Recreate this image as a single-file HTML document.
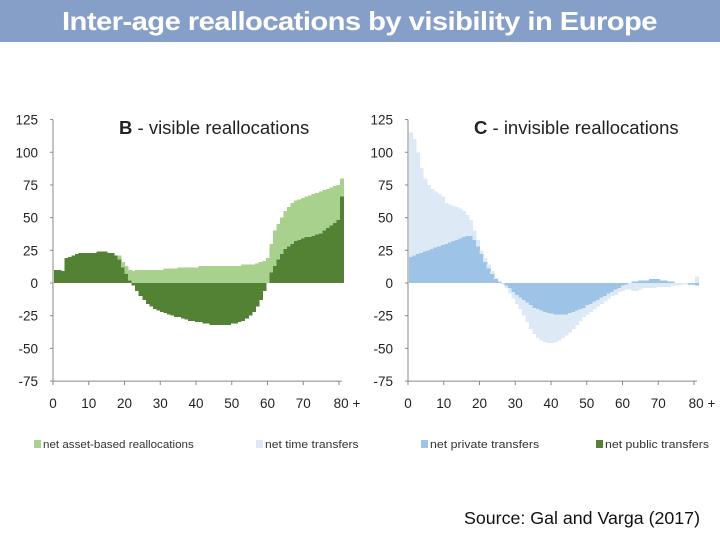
<!DOCTYPE html>
<html><head><meta charset="utf-8"><style>
body{margin:0;width:720px;height:540px;background:#fff;overflow:hidden;font-family:"Liberation Sans",sans-serif}
#hdr{position:absolute;left:0;top:0;width:720px;height:42px;background:#859fc9}
#hdrt{position:absolute;left:360px;top:0;color:#fff;font-weight:bold;font-size:26px;line-height:42px;white-space:nowrap;transform-origin:0 0;letter-spacing:-0.5px}
svg{position:absolute;left:0;top:0}
</style></head><body>
<div id="hdr"></div>
<div id="hdrt">Inter-age reallocations by visibility in Europe</div>
<svg id="chart" width="720" height="540"></svg>
<script>
const ages=[];for(let a=0;a<=81;a++)ages.push(a);
const publicTransfers=[10,10,9,19,20,21,22,23,23,23,23,23,24,24,24,23,23,21,18,12,7,2,-2,-6,-10,-13,-16,-18,-20,-21,-22,-23,-24,-25,-26,-26,-27,-28,-29,-29,-30,-30,-31,-31,-32,-32,-32,-32,-32,-32,-31,-31,-30,-29,-27,-25,-22,-18,-13,-6,0,8,13,18,22,26,28,30,32,33,34,35,35,36,37,38,40,42,44,46,48,66];
const assetBased=[0,0,0,0,0,0,0,0,0,0,0,0,0,0,0,0,0,0,3,4,6,8,9,10,10,10,10,10,10,10,10,11,11,11,11,12,12,12,12,12,12,13,13,13,13,13,13,13,13,13,13,13,13,14,14,14,14,15,16,17,19,22,27,27,28,29,30,31,31,31,31,31,32,32,32,32,31,30,29,28,27,14];
const privateTransfers=[20,21,22,23,24,25,26,27,28,29,30,31,32,33,34,35,36,36,33,28,22,16,11,7,3,1,0,-2,-4,-7,-9,-11,-13,-15,-17,-19,-20,-21,-22,-23,-23.5,-24,-24,-24,-24,-23,-22,-21,-20,-19,-17,-16,-14,-13,-11,-10,-8,-7,-5,-4,-2,-1,0,1,1,2,2,2,3,3,3,2,2,1,1,0,0,0,0,-1,-1,-2];
const timeTransfers=[95,89,78,65,56,50,46,43,40,37,31,29,27,25,23,20,16,12,7,5,3,3,3,2,1,0,-1,-2,-4,-5,-7,-9,-12,-15,-18,-20,-22,-23,-23,-23,-22.5,-21,-20,-18,-16,-15,-13,-11,-9,-7,-7,-6,-6,-5,-5,-4,-4,-3,-4,-3,-4,-4,-5,-6,-6,-5,-4,-4,-4,-4,-3,-3,-3,-3,-2,-2,-2,-1,-1,-1,-1,5];
const yTicks=[125,100,75,50,25,0,-25,-50,-75];
const xTicks=[0,10,20,30,40,50,60,70,80];
const xTickLabels=["0","10","20","30","40","50","60","70","80 +"];

const ht=document.getElementById('hdrt');const w=ht.getBoundingClientRect().width;
ht.style.left='62px';ht.style.transform='scaleX('+(595/w)+')';

const svg=document.getElementById('chart');const NS='http://www.w3.org/2000/svg';
function mk(t,at,txt){const e=document.createElementNS(NS,t);for(const k in at)e.setAttribute(k,at[k]);if(txt!==undefined)e.textContent=txt;svg.appendChild(e);return e;}
const yS=v=>283-v*1.3075;
const STEP=3.53;
function panel(x0,title,bold,s1,s2,c1,c2,nm){
  const xS=a=>x0+1+a*STEP;
  ages.forEach((a,i)=>{
    const v1=s1[i],v2=s2[i];
    let r=mk('rect',{x:xS(a),width:STEP+0.6,y:Math.min(yS(0),yS(v1)),height:Math.abs(yS(v1)-yS(0)),fill:c1,'shape-rendering':'crispEdges'});
    
    let base=(v2>=0)===(v1>=0)?v1:0;
    let top=base+v2;
    r=mk('rect',{x:xS(a),width:STEP+0.6,y:Math.min(yS(base),yS(top)),height:Math.abs(yS(top)-yS(base)),fill:c2,'shape-rendering':'crispEdges'});
    
  });
  mk('line',{x1:x0,x2:x0,y1:yS(125),y2:yS(-75),stroke:'#888','stroke-width':1});
  mk('line',{x1:x0,x2:x0+289,y1:yS(-75),y2:yS(-75),stroke:'#888','stroke-width':1});
  yTicks.forEach(v=>{mk('line',{x1:x0-3,x2:x0,y1:yS(v),y2:yS(v),stroke:'#888'});
    const t=mk('text',{x:x0-15,y:yS(v)+5,'text-anchor':'end','font-size':13.5,fill:'#222'},String(v));
    });
  xTicks.forEach((v,i)=>{mk('line',{x1:x0+v*3.575,x2:x0+v*3.575,y1:yS(-75),y2:yS(-75)+4,stroke:'#888'});
    const t=mk('text',{x:x0+v*3.575+(i==8?8:0),y:408,'text-anchor':'middle','font-size':13.5,fill:'#222'},xTickLabels[i]);
    });
  const t=mk('text',{x:x0+66,y:134,'font-size':18.5,fill:'#222'});
  
  const b=document.createElementNS(NS,'tspan');b.setAttribute('font-weight','bold');b.textContent=bold;t.appendChild(b);
  t.appendChild(document.createTextNode(title));
}
panel(53,' - visible reallocations','B',publicTransfers,assetBased,'#548235','#a9d18e','panel-b');
panel(408,' - invisible reallocations','C',privateTransfers,timeTransfers,'#9dc3e6','#ddeaf6','panel-c');
const legend=[[34,'#a9d18e','net asset-based reallocations'],[256,'#ddeaf6','net time transfers'],[421,'#9dc3e6','net private transfers'],[596,'#548235','net public transfers']];
legend.forEach(l=>{
  const r=mk('rect',{x:l[0],y:440,width:7,height:8,fill:l[1]});
  
  const t=mk('text',{x:l[0]+9,y:448,'font-size':11,fill:'#333',textLength:l[2].length*5.2,lengthAdjust:'spacingAndGlyphs'},l[2]);
  
});
const s=mk('text',{x:700,y:524,'text-anchor':'end','font-size':17.8,fill:'#111',textLength:236,lengthAdjust:'spacingAndGlyphs'},'Source: Gal and Varga (2017)');

</script>
</body></html>
